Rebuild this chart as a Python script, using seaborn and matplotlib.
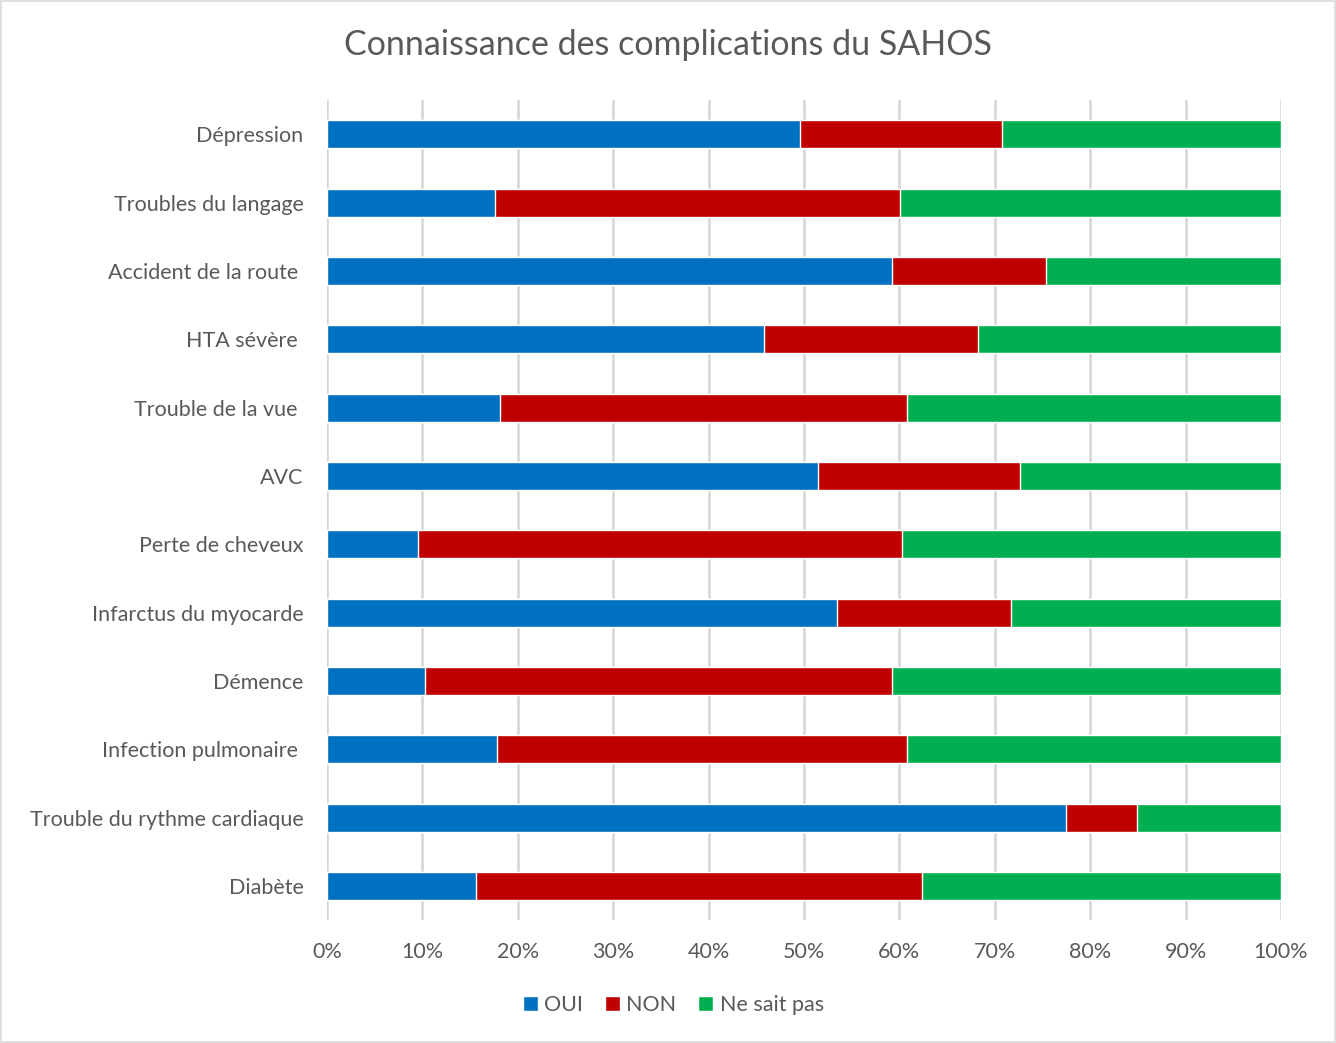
import pandas as pd
import matplotlib
matplotlib.use('Agg')
import matplotlib.pyplot as plt
import seaborn as sns
from matplotlib.patches import Patch, Rectangle

categories = ["Dépression", "Troubles du langage", "Accident de la route ", "HTA sévère ",
              "Trouble de la vue ", "AVC", "Perte de cheveux", "Infarctus du myocarde",
              "Démence", "Infection pulmonaire ", "Trouble du rythme cardiaque", "Diabète"]
oui = [49.6, 17.6, 59.2, 45.8, 18.1, 51.5, 9.5, 53.5, 10.3, 17.8, 77.5, 15.6]
non = [21.2, 42.5, 16.2, 22.4, 42.7, 21.1, 50.8, 18.2, 48.9, 43.0, 7.4, 46.8]
nsp = [100 - o - n for o, n in zip(oui, non)]
series = ["OUI", "NON", "Ne sait pas"]
colors = ["#0070C0", "#C00000", "#00B050"]

df = pd.DataFrame({"cat": categories, "OUI": oui, "NON": non, "Ne sait pas": nsp})
df["c1"] = df["OUI"]
df["c2"] = df["OUI"] + df["NON"]
df["c3"] = df["c2"] + df["Ne sait pas"]

sns.set_style("white")
plt.rcParams['font.family'] = ['Lato', 'DejaVu Sans']
txt = "#595959"

fig = plt.figure(figsize=(13.36, 10.43), dpi=100)
ax = fig.add_axes([0.2448, 0.1179, 0.7140, 0.7862])

# stacked bars: draw cumulative totals from the back to the front
for col, c in zip(["c3", "c2", "c1"], colors[::-1]):
    sns.barplot(data=df, y="cat", x=col, color=c, orient="h", width=0.41,
                saturation=1, ax=ax, zorder=3)

ax.set_xlim(0, 100)
ax.set_ylim(len(categories) - 0.5, -0.5)
ax.set_xticks(range(0, 101, 10))
ax.set_xticklabels([f"{v}%" for v in range(0, 101, 10)])
ax.xaxis.grid(True, color="#D5D5D5", linewidth=1.8, zorder=0)
ax.set_axisbelow(True)
for s in ax.spines.values():
    s.set_visible(False)
ax.set_xlabel("")
ax.set_ylabel("")
ax.tick_params(axis="both", length=0, labelsize=15.5, labelcolor=txt)
ax.tick_params(axis="x", pad=16)
ax.tick_params(axis="y", pad=17)

fig.text(0.5, 0.957, "Connaissance des complications du SAHOS", ha="center", va="center",
         fontsize=24.5, color=txt)

handles = [Patch(facecolor=c, label=s) for s, c in zip(series, colors)]
fig.legend(handles=handles, loc="center", bbox_to_anchor=(0.504, 0.036), ncol=3,
           frameon=False, fontsize=15.5, labelcolor=txt, handlelength=0.7,
           handleheight=0.7, handletextpad=0.3, columnspacing=1.0)

fig.patches.append(Rectangle((0.001, 0.001), 0.998, 0.998, transform=fig.transFigure,
                             fill=False, edgecolor="#D9D9D9", linewidth=1.2))

fig.savefig("out.png", dpi=100)
